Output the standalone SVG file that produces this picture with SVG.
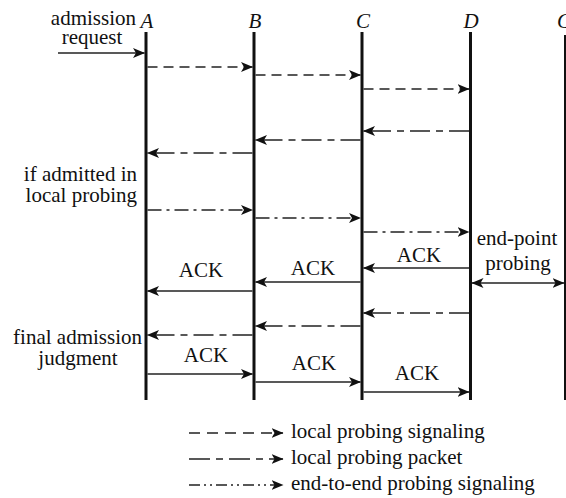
<svg xmlns="http://www.w3.org/2000/svg" width="566" height="498" viewBox="0 0 566 498" font-family="'Liberation Serif', 'DejaVu Serif', 'Times New Roman', serif">
<style>
text{font-family:'Liberation Serif','DejaVu Serif','Times New Roman',serif;font-size:21px;fill:#111}
.lbl{font-style:italic}
.life{stroke:#111;stroke-width:3;fill:none}
.life2{stroke:#111;stroke-width:2;fill:none}
.a{stroke:#222;stroke-width:1.6;fill:none;marker-end:url(#ah)}
.sig{stroke-dasharray:10 6}
.sigL{stroke-dasharray:11 7}
.pkt{stroke-dasharray:20 6 7 6}
.e2e{stroke-dasharray:14 5 3 5}
.e2eL{stroke-dasharray:11 4 2 4 2 4}
.pktL{stroke-dasharray:21 6 7 6}
.bi{marker-start:url(#ah)}
</style>
<defs>
<marker id="ah" markerUnits="userSpaceOnUse" viewBox="0 0 12 10" refX="11.5" refY="5" markerWidth="12" markerHeight="10" orient="auto-start-reverse">
<path d="M0,0 L12,5 L0,10 L3,5 Z" fill="#111"/>
</marker>
</defs>
<rect width="566" height="498" fill="#fff"/>
<g id="nodeA">
<line class="life" x1="146" y1="32" x2="146" y2="400"/>
<text class="lbl" x="147" y="28" text-anchor="middle" font-family="Liberation Serif">A</text>
</g>
<g id="nodeB">
<line class="life" x1="254" y1="32" x2="254" y2="400"/>
<text class="lbl" x="255" y="28" text-anchor="middle" font-family="Liberation Serif">B</text>
</g>
<g id="nodeC">
<line class="life" x1="362" y1="32" x2="362" y2="400"/>
<text class="lbl" x="363" y="28" text-anchor="middle" font-family="Liberation Serif">C</text>
</g>
<g id="nodeD">
<line class="life" x1="470.5" y1="32" x2="470.5" y2="400"/>
<text class="lbl" x="471" y="28" text-anchor="middle" font-family="Liberation Serif">D</text>
</g>
<g id="nodeC2">
<line class="life2" x1="565" y1="35" x2="565" y2="400"/>
<text class="lbl" x="557" y="28" font-family="Liberation Serif">C</text>
</g>
<g id="annotations" font-family="Liberation Serif">
<text x="136" y="25" text-anchor="end">admission</text>
<text x="92" y="44" text-anchor="middle">request</text>
<text x="137" y="181" text-anchor="end">if admitted in</text>
<text x="137" y="202" text-anchor="end">local probing</text>
<text x="142" y="344" text-anchor="end">final admission</text>
<text x="78" y="365" text-anchor="middle">judgment</text>
<text x="517" y="245" text-anchor="middle">end-point</text>
<text x="518" y="270" text-anchor="middle">probing</text>
<text x="201" y="277" text-anchor="middle">ACK</text>
<text x="313" y="275" text-anchor="middle">ACK</text>
<text x="419" y="262" text-anchor="middle">ACK</text>
<text x="206" y="362" text-anchor="middle">ACK</text>
<text x="314" y="370" text-anchor="middle">ACK</text>
<text x="417" y="380" text-anchor="middle">ACK</text>
</g>
<g id="connectors">
<line class="a" x1="58" y1="53" x2="144.5" y2="53"/>
<line class="a sig" x1="147.5" y1="67" x2="252.5" y2="67"/>
<line class="a sig" x1="255.5" y1="75" x2="360.5" y2="75"/>
<line class="a sig" x1="363.5" y1="89" x2="469" y2="89"/>
<line class="a pkt" x1="469" y1="131" x2="363.5" y2="131"/>
<line class="a pkt" x1="360.5" y1="140" x2="255.5" y2="140"/>
<line class="a pkt" x1="252.5" y1="153" x2="147.5" y2="153"/>
<line class="a e2e" x1="147.5" y1="210" x2="252.5" y2="210"/>
<line class="a e2e" x1="255.5" y1="218" x2="360.5" y2="218"/>
<line class="a e2e" x1="363.5" y1="232" x2="469" y2="232"/>
<line class="a" x1="469" y1="268" x2="363.5" y2="268"/>
<line class="a" x1="360.5" y1="282" x2="255.5" y2="282"/>
<line class="a" x1="252.5" y1="291" x2="147.5" y2="291"/>
<line class="a bi" x1="472" y1="283" x2="564" y2="283"/>
<line class="a pkt" x1="469" y1="313" x2="363.5" y2="313"/>
<line class="a pkt" x1="360.5" y1="326" x2="255.5" y2="326"/>
<line class="a pkt" x1="252.5" y1="335" x2="147.5" y2="335"/>
<line class="a" x1="147.5" y1="374" x2="252.5" y2="374"/>
<line class="a" x1="255.5" y1="382" x2="360.5" y2="382"/>
<line class="a" x1="363.5" y1="392" x2="469" y2="392"/>
</g>
<g id="legend" font-family="Liberation Serif">
<line class="a sigL" x1="189" y1="433" x2="283" y2="433"/>
<line class="a pktL" x1="189" y1="459" x2="283" y2="459"/>
<line class="a e2eL" x1="189" y1="485" x2="283" y2="485"/>
<text x="291" y="438">local probing signaling</text>
<text x="291" y="464">local probing packet</text>
<text x="291" y="490">end-to-end probing signaling</text>
</g>
</svg>
